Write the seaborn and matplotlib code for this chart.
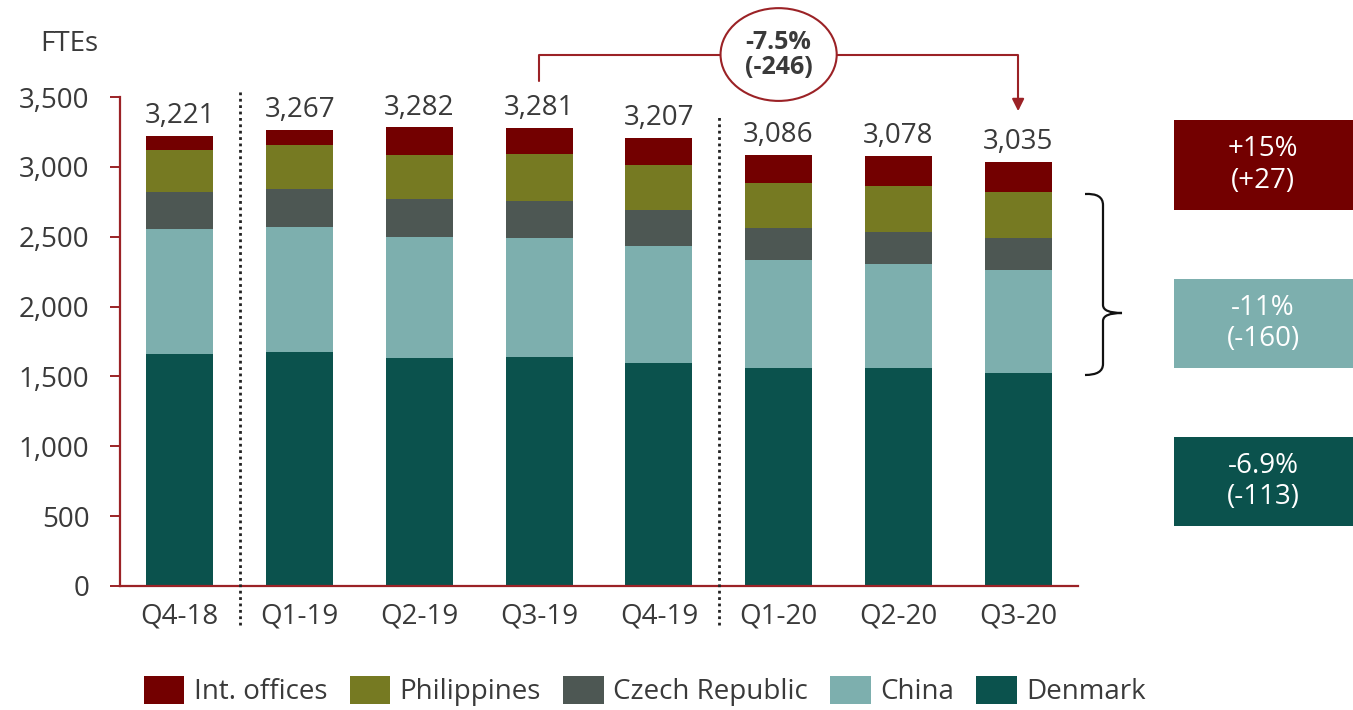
import numpy as np
import pandas as pd
import matplotlib
matplotlib.use("Agg")
import matplotlib.pyplot as plt
import seaborn as sns
from matplotlib.patches import Ellipse, Rectangle, Patch, PathPatch
from matplotlib.path import Path
from matplotlib.ticker import FuncFormatter

# ---------------- data ----------------
quarters = ["Q4-18", "Q1-19", "Q2-19", "Q3-19", "Q4-19", "Q1-20", "Q2-20", "Q3-20"]
denmark = [1662, 1674, 1631, 1638, 1595, 1562, 1562, 1525]
china = [893, 893, 869, 852, 838, 774, 745, 738]
czech = [266, 276, 269, 267, 257, 224, 229, 231]
philippines = [298, 312, 319, 337, 324, 328, 328, 327]
int_offices = [102, 112, 194, 187, 193, 198, 214, 214]

series_names = ["Int. offices", "Philippines", "Czech Republic", "China", "Denmark"]
series_colors = ["#730000", "#767A22", "#4D5753", "#7DAFAE", "#0B524D"]

change_total = ["-7.5%", "(-246)"]
box_texts = [["+15%", "(+27)"], ["-11%", "(-160)"], ["-6.9%", "(-113)"]]

# ---------------- style ----------------
sns.set_theme(style="white")
plt.rcParams["font.family"] = ["Open Sans", "DejaVu Sans"]
TXT = "#3a3a3a"
RED = "#9B2226"

df = pd.DataFrame({
    "quarter": quarters,
    "Denmark": denmark,
    "China": china,
    "Czech Republic": czech,
    "Philippines": philippines,
    "Int. offices": int_offices,
})
stack_order = ["Denmark", "China", "Czech Republic", "Philippines", "Int. offices"]
cum = df[stack_order].cumsum(axis=1)
df["total"] = cum["Int. offices"]

fig = plt.figure(figsize=(13.53, 7.10), dpi=100)
ax = fig.add_axes([120 / 1353, 1 - 586 / 710, 958 / 1353, (586 - 97) / 710])

color_map = dict(zip(series_names, series_colors))
for name in reversed(stack_order):  # draw from top cumulative down
    sns.barplot(x=df["quarter"], y=cum[name], order=quarters, color=color_map[name],
                saturation=1, width=0.56, ax=ax, linewidth=0, zorder=2)

ax.set_xlim(-0.5, 7.5)
ax.set_ylim(0, 3500)
ax.set_yticks(np.arange(0, 3501, 500))
ax.yaxis.set_major_formatter(FuncFormatter(lambda v, p: f"{int(v):,}"))
ax.set_xlabel("")
ax.set_ylabel("")
for s in ["top", "right"]:
    ax.spines[s].set_visible(False)
for s in ["left", "bottom"]:
    ax.spines[s].set_color(RED)
    ax.spines[s].set_linewidth(1.6)
ax.tick_params(axis="y", which="both", left=True, length=7, width=1.4, color=RED,
               pad=15, labelsize=20, labelcolor=TXT)
ax.tick_params(axis="x", bottom=False, pad=6, labelsize=20, labelcolor=TXT)

# total labels
for i, t in enumerate(df["total"]):
    ax.annotate(f"{t:,}", (i, t), xytext=(0, 9), textcoords="offset points",
                ha="center", va="baseline", fontsize=20, color=TXT)

# dotted separators
ax.plot([0.5, 0.5], [-280, 3560], ls=(0, (1, 1.3)), color="#222222", lw=2, clip_on=False, zorder=3)
ax.plot([4.5, 4.5], [-280, 3365], ls=(0, (1, 1.3)), color="#222222", lw=2, clip_on=False, zorder=3)

# top bracket with ellipse
ax.plot([3, 3, 7, 7], [3614, 3800, 3800, 3450], color=RED, lw=1.5, clip_on=False, zorder=3)
ax.annotate("", xy=(7, 3379), xytext=(7, 3470), xycoords="data",
            arrowprops=dict(arrowstyle="-|>", color=RED, lw=1.5, mutation_scale=18),
            annotation_clip=False)
ell = Ellipse((5, 3804), 0.97, 664, facecolor="white", edgecolor=RED, lw=1.5,
              clip_on=False, zorder=4)
ax.add_patch(ell)
ax.text(5, 3804, "\n".join(change_total), ha="center", va="center", fontsize=18,
        fontweight="bold", color=TXT, zorder=5, linespacing=1.0)

# FTEs label
fig.text(40 / 1353, 1 - 44 / 710, "FTEs", ha="left", va="center", fontsize=20, color=TXT)

# overlay for right-hand boxes and brace
ov = fig.add_axes([0, 0, 1, 1], zorder=-1)
ov.set_xlim(0, 1353)
ov.set_ylim(710, 0)
ov.axis("off")
box_colors = [series_colors[0], series_colors[3], series_colors[4]]
box_y = [(120, 210), (279, 368), (437, 526)]
for (y0, y1), c, lines in zip(box_y, box_colors, box_texts):
    ov.add_patch(Rectangle((1174, y0), 1353 - 1174, y1 - y0, facecolor=c, edgecolor="none"))
    ov.text(1263, (y0 + y1) / 2, "\n".join(lines), ha="center", va="center",
            fontsize=20, color="white", linespacing=1.15)

verts = [(1085, 194), (1103, 193), (1103, 205), (1103, 305), (1103, 313), (1122, 313),
         (1103, 313), (1103, 321), (1103, 364), (1103, 375), (1085, 375)]
codes = [Path.MOVETO, Path.CURVE3, Path.CURVE3, Path.LINETO, Path.CURVE3, Path.CURVE3,
         Path.CURVE3, Path.CURVE3, Path.LINETO, Path.CURVE3, Path.CURVE3]
ov.add_patch(PathPatch(Path(verts, codes), facecolor="none", edgecolor="#111111", lw=1.6))

# legend
handles = [Patch(facecolor=c, edgecolor="none", label=n) for n, c in zip(series_names, series_colors)]
fig.legend(handles=handles, loc="center", bbox_to_anchor=(645 / 1353, 1 - 691 / 710), ncol=5,
           frameon=False, fontsize=20, handlelength=1.45, handleheight=1.2,
           handletextpad=0.35, columnspacing=0.8, labelcolor=TXT, borderaxespad=0)

fig.savefig("out.png", dpi=100)
